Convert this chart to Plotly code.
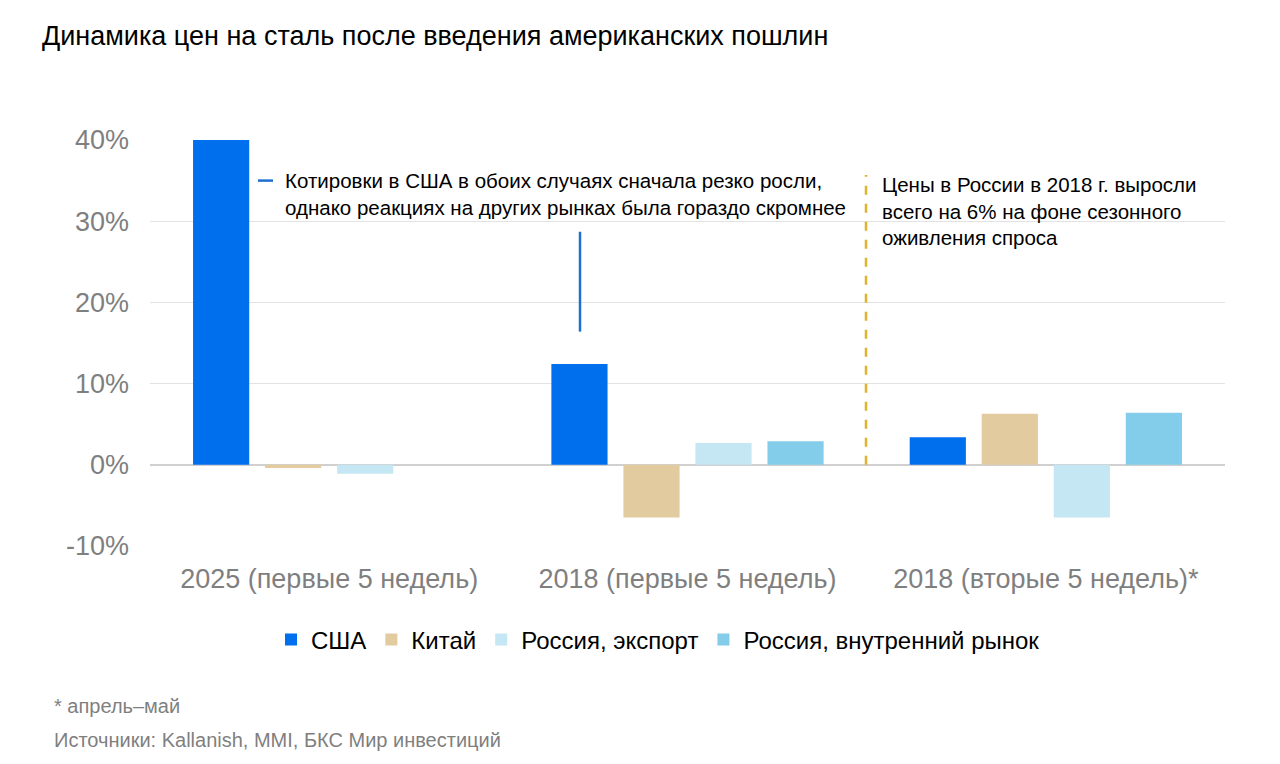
import plotly.graph_objects as go

categories = ["2025 (первые 5 недель)", "2018 (первые 5 недель)", "2018 (вторые 5 недель)*"]
series_names = ["США", "Китай", "Россия, экспорт", "Россия, внутренний рынок"]
usa = [40.0, 12.4, 3.4]
china = [-0.4, -6.5, 6.3]
rus_export = [-1.1, 2.7, -6.5]
rus_domestic = [None, 2.9, 6.4]
colors = ["#006FEE", "#E3CBA0", "#C5E6F3", "#83CDEA"]
tick_vals = [-10, 0, 10, 20, 30, 40]
tick_text = ["-10%", "0%", "10%", "20%", "30%", "40%"]

FONT = "Liberation Sans, Arial, sans-serif"

# plot area in figure pixels
L, R, T, B = 142, 1217, 132, 538
PW, PH = R - L, B - T

fig = go.Figure()
for name, vals, col in zip(series_names, [usa, china, rus_export, rus_domestic], colors):
    fig.add_trace(go.Bar(x=categories, y=vals, name=name, marker=dict(color=col, line=dict(width=0))))

fig.update_layout(
    width=1280, height=764,
    margin=dict(l=L, r=1280 - R, t=T, b=764 - B),
    paper_bgcolor="white", plot_bgcolor="white",
    font=dict(family=FONT, color="#000000"),
    barmode="group", bargap=0.196, bargroupgap=0.22,
    showlegend=True,
    legend=dict(orientation="h", x=(650 - L) / PW, xanchor="center", y=(B - 632) / PH, yanchor="middle",
                font=dict(size=24, color="#000000"), itemwidth=30, traceorder="normal"),
    title=dict(text="Динамика цен на сталь после введения американских пошлин",
               x=34/1280, xanchor="left", y=1-28/764, yanchor="middle",
               font=dict(size=27, color="#000000", family=FONT)),
)
fig.update_yaxes(range=[-10, 40], tickvals=tick_vals, ticktext=tick_text,
                 tickfont=dict(size=27, color="#7F7F7F"), showgrid=True,
                 gridcolor="#E3E3E3", gridwidth=1, zeroline=True, zerolinecolor="#D0D0D0",
                 zerolinewidth=2, showline=False, ticks="", ticklabelstandoff=20)
fig.update_xaxes(tickfont=dict(size=27, color="#7F7F7F"), showline=False, ticks="",
                 ticklabelstandoff=14)

# blue marker line over 2018 US bar
fig.add_shape(type="line", xref="x domain", yref="y", x0=0.4, x1=0.4, y0=16.4, y1=28.7,
              line=dict(color="#1F6FD0", width=2.5))
# small legend dash next to note text
fig.add_shape(type="line", xref="x domain", yref="y", x0=(258-150)/1075, x1=(273-150)/1075,
              y0=35.0, y1=35.0, line=dict(color="#1F6FD0", width=2.5))
fig.add_annotation(xref="x domain", yref="y", x=(283-150)/1075, y=33.4, xanchor="left", yanchor="middle",
                   text="Котировки в США в обоих случаях сначала резко росли,<br>однако реакциях на других рынках была гораздо скромнее",
                   showarrow=False, align="left", font=dict(size=20.5, color="#000000", family=FONT))
# dashed gold separator
fig.add_shape(type="line", xref="x domain", yref="y", x0=(866-150)/1075, x1=(866-150)/1075,
              y0=0, y1=35.7, line=dict(color="#DDB42C", width=2.5, dash="dash"))
fig.add_annotation(xref="x domain", yref="y", x=(880-150)/1075, y=31.2, xanchor="left", yanchor="middle",
                   text="Цены в России в 2018 г. выросли<br>всего на 6% на фоне сезонного<br>оживления спроса",
                   showarrow=False, align="left", font=dict(size=20.5, color="#000000", family=FONT))

fig.add_annotation(xref="paper", yref="paper", x=(44 - L)/PW, y=(B - 698)/PH, xanchor="left", yanchor="middle",
                   text="* апрель–май", showarrow=False, font=dict(size=20, color="#7F7F7F", family=FONT))
fig.add_annotation(xref="paper", yref="paper", x=(44 - L)/PW, y=(B - 732)/PH, xanchor="left", yanchor="middle",
                   text="Источники: Kallanish, MMI, БКС Мир инвестиций", showarrow=False,
                   font=dict(size=20, color="#7F7F7F", family=FONT))

fig.write_html("out.html")
